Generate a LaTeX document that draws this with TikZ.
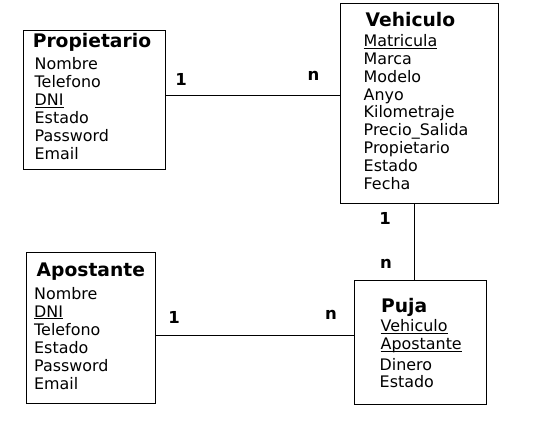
\documentclass[tikz,border=0pt]{standalone}
\usepackage{fontspec}
\setmainfont{DejaVu Sans}
\newcommand{\clave}[1]{\underline{\smash{#1}}}

\begin{document}
\begin{tikzpicture}[x=1pt,y=-1pt,
  entidad/.style={draw,line width=0.9pt,inner sep=0pt},
  titulo/.style={font=\fontsize{18.7}{22}\selectfont\bfseries,inner sep=0pt,anchor=base west},
  campo/.style={font=\fontsize{15.9}{18}\selectfont,inner sep=0pt,anchor=base west},
  card/.style={font=\fontsize{16.5}{18}\selectfont\bfseries,inner sep=0pt,anchor=base},
  enlace/.style={line width=0.9pt}]
\useasboundingbox (0,0) rectangle (545,433);
% entidades
\node[entidad,minimum width=142pt,minimum height=139pt] (prop) at (94,99.5) {};
\node[entidad,minimum width=158pt,minimum height=200pt] (veh) at (419,103) {};
\node[entidad,minimum width=129pt,minimum height=151pt] (apos) at (90.5,327.5) {};
\node[entidad,minimum width=132pt,minimum height=124pt] (puja) at (420,342) {};

% Propietario
\node[titulo] (propT) at (32.6,47.3) {Propietario};
\foreach \t [count=\i] in {Nombre,Telefono,{\clave{DNI}},Estado,Password,Email}
  \node[campo] (prop\i) at (34.5,70+17.8*\i-17.8) {\t};
% Vehiculo
\node[titulo] (vehT) at (365.5,26.7) {Vehiculo};
\foreach \t [count=\i] in {{\clave{Matricula}},Marca,Modelo,Anyo,Kilometraje,Precio\_Salida,Propietario,Estado,Fecha}
  \node[campo] (veh\i) at (363.5,46.7+17.8*\i-17.8) {\t};
% Apostante
\node[titulo] (aposT) at (36.5,276.7) {Apostante};
\foreach \t [count=\i] in {Nombre,{\clave{DNI}},Telefono,Estado,Password,Email}
  \node[campo] (apos\i) at (34,299+18.1*\i-18.1) {\t};
% Puja
\node[titulo] (pujaT) at (381,312.7) {Puja};
\node[campo] (puja1) at (380.5,331.7) {\clave{Vehiculo}};
\node[campo] (puja2) at (380.5,349.3) {\clave{Apostante}};
\node[campo] (puja3) at (379.5,370) {Dinero};
\node[campo] (puja4) at (379.5,387.3) {Estado};

% relaciones
\coordinate (pv) at ([yshift=4.5pt]prop.east);
\draw[enlace] (pv) -- (pv -| veh.west);
\coordinate (vp) at ([xshift=-5pt]veh.south);
\draw[enlace] (vp) -- (vp |- puja.north);
\coordinate (ap) at ([yshift=-7.5pt]apos.east);
\draw[enlace] (ap) -- (ap -| puja.west);

\node[card] (c1) at (181,85) {1};
\node[card] (c2) at (313.5,81) {n};
\node[card] (c3) at (385,224) {1};
\node[card] (c4) at (386,268) {n};
\node[card] (c5) at (174,323) {1};
\node[card] (c6) at (331,319) {n};
\end{tikzpicture}
\end{document}
